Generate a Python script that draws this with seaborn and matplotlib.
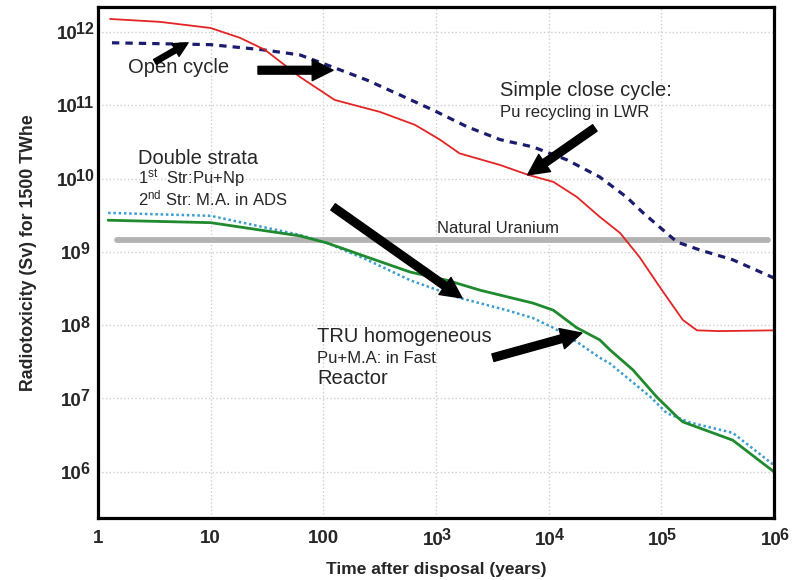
import matplotlib
matplotlib.use("Agg")
import matplotlib.pyplot as plt
import pandas as pd
import seaborn as sns

# Simple close cycle: Pu recycling in LWR
close_t = [1.28, 3.55, 10, 18.2, 30.3, 62, 126, 318, 650, 1080, 1620, 3700, 6600,
           1.1e4, 1.78e4, 2.84e4, 4.3e4, 6.4e4, 9.7e4, 1.55e5, 2.07e5, 3.3e5, 1.0e6]
close_sv = [1.5e12, 1.37e12, 1.13e12, 8.3e11, 5.7e11, 2.43e11, 1.18e11, 8.1e10, 5.4e10,
            3.4e10, 2.2e10, 1.53e10, 1.12e10, 9e9, 5.6e9, 3.0e9, 1.81e9, 8.5e8, 3.3e8,
            1.18e8, 8.5e7, 8.3e7, 8.5e7]

# Open cycle
open_t = [1.33, 10, 29, 62, 122, 244, 478, 940, 1880, 3690, 7250, 1.45e4, 2.84e4,
          4.9e4, 6.9e4, 1.03e5, 1.38e5, 2.2e5, 4.3e5, 1.0e6]
open_sv = [7.1e11, 6.7e11, 5.7e11, 4.85e11, 3.3e11, 2.2e11, 1.38e11, 8.6e10, 5.1e10,
           3.4e10, 2.7e10, 1.8e10, 1.05e10, 5.6e9, 3.4e9, 2.0e9, 1.36e9, 1.06e9,
           7.8e8, 4.4e8]

# Double strata
double_t = [1.23, 10, 62, 108, 244, 590, 1250, 2460, 7250, 1.1e4, 1.78e4, 2.84e4,
            3.5e4, 5.6e4, 9.1e4, 1.38e5, 1.55e5, 4.3e5, 1.0e6]
double_sv = [2.7e9, 2.5e9, 1.65e9, 1.32e9, 8.5e8, 5.3e8, 4.1e8, 3.0e8, 2.0e8, 1.6e8,
             9.2e7, 6.3e7, 4.6e7, 2.45e7, 1.05e7, 5.6e6, 4.8e6, 2.7e6, 1.0e6]

# TRU homogeneous
tru_t = [1.23, 10, 62, 108, 244, 590, 1620, 4250, 7250, 1.1e4, 1.78e4, 2.84e4,
         3.5e4, 8e4, 1.12e5, 1.8e5, 4.3e5, 1.0e6]
tru_sv = [3.4e9, 3.1e9, 1.7e9, 1.32e9, 7.8e8, 4.1e8, 2.35e8, 1.6e8, 1.25e8, 9.2e7,
          5.9e7, 3.6e7, 3.0e7, 1.05e7, 6.3e6, 4.7e6, 3.4e6, 1.23e6]

# Natural uranium reference level
uranium_t = [1.47, 8.8e5]
uranium_sv = [1.45e9, 1.45e9]

x_ticks = [1, 10, 100, 1e3, 1e4, 1e5, 1e6]
x_exps = [None, None, None, "3", "4", "5", "6"]
x_plain = ["1", "10", "100", None, None, None, None]
y_ticks = [1e6, 1e7, 1e8, 1e9, 1e10, 1e11, 1e12]
y_exps = ["6", "7", "8", "9", "10", "11", "12"]

sns.set_style("white")
plt.rcParams["font.family"] = ["Liberation Sans", "DejaVu Sans"]
plt.rcParams["mathtext.fontset"] = "custom"
plt.rcParams["mathtext.rm"] = "Liberation Sans"
plt.rcParams["mathtext.bf"] = "Liberation Sans:bold"
plt.rcParams["mathtext.it"] = "Liberation Sans:italic"
plt.rcParams["mathtext.default"] = "regular"

fig = plt.figure(figsize=(8.06, 5.8), dpi=100)
ax = fig.add_axes([0.1216, 0.1069, 0.8387, 0.8811])
ax.set_xscale("log")
ax.set_yscale("log")

sns.lineplot(x=uranium_t, y=uranium_sv, ax=ax, color="#b3b3b3", lw=4.2)
sns.lineplot(x=open_t, y=open_sv, ax=ax, color="#1c1c6e", lw=2.3,
             linestyle=(0, (2.3, 1.9)))
sns.lineplot(x=close_t, y=close_sv, ax=ax, color="#e32424", lw=1.3)
sns.lineplot(x=tru_t, y=tru_sv, ax=ax, color="#3b9ccf", lw=1.8,
             linestyle=(0, (1, 1.1)))
sns.lineplot(x=double_t, y=double_sv, ax=ax, color="#1f8a2e", lw=2.0)

ax.set_xlim(1, 1e6)
ax.set_ylim(10 ** 5.37, 10 ** 12.34)
ax.set_xticks(x_ticks)
ax.set_yticks(y_ticks)
ax.set_xticklabels([])
ax.set_yticklabels([])
ax.minorticks_off()
ax.tick_params(length=0)
ax.grid(True, which="major", color="#cfcfcf", linestyle=":", linewidth=1)
for sp in ax.spines.values():
    sp.set_visible(True)
    sp.set_color("black")
    sp.set_linewidth(2.3)

FS, FS_EXP = 13.5, 11.5


def power_label(xy, coords, exp, dx, dy):
    # "10" with a large superscript, centred on (dx, dy) points from xy
    total = 1.112 * FS + 0.556 * FS_EXP * len(exp)
    base = ax.annotate("10", xy=xy, xycoords=coords, xytext=(dx - total / 2, dy),
                       textcoords="offset points", ha="left", va="center",
                       fontsize=FS, fontweight="bold", annotation_clip=False)
    ax.annotate(exp, xy=(1, 0.5), xycoords=base, xytext=(-1.2, 3.5),
                textcoords="offset points", ha="left", va="center",
                fontsize=FS_EXP, fontweight="bold", annotation_clip=False)


for v, e in zip(y_ticks, y_exps):
    power_label((0, v), ("axes fraction", "data"), e, -16, -2)

for v, e, p in zip(x_ticks, x_exps, x_plain):
    if e is None:
        ax.annotate(p, xy=(v, 0), xycoords=("data", "axes fraction"),
                    xytext=(0, -15), textcoords="offset points", ha="center",
                    va="center", fontsize=FS, fontweight="bold",
                    annotation_clip=False)
    else:
        power_label((v, 0), ("data", "axes fraction"), e, 1, -16)

ax.set_xlabel("Time after disposal (years)", fontsize=12.5, fontweight="bold")
ax.xaxis.set_label_coords(0.5, -0.087)
ax.set_ylabel("Radiotoxicity (Sv) for 1500 TWhe", fontsize=12.8,
              fontweight="bold")
ax.yaxis.set_label_coords(-0.09, 0.52)

# text labels
ax.text(1.85, 3.3e11, "Open cycle", fontsize=14.5, va="center")
ax.text(3690, 1.6e11, "Simple close cycle:", fontsize=14.5, va="center")
ax.text(3690, 7.9e10, "Pu recycling in LWR", fontsize=12, va="center")
ax.text(2.27, 1.85e10, "Double strata", fontsize=14.5, va="center")
ax.text(2.27, 9.9e9, r"1$^{st}$  Str:Pu+Np", fontsize=12, va="center")
ax.text(2.27, 5.4e9, r"2$^{nd}$ Str: M.A. in ADS", fontsize=12, va="center")
ax.text(3550, 2.05e9, "Natural Uranium", fontsize=12, va="center", ha="center")
ax.text(88, 6.9e7, "TRU homogeneous", fontsize=14.5, va="center")
ax.text(88, 3.5e7, "Pu+M.A: in Fast", fontsize=12, va="center")
ax.text(88, 1.9e7, "Reactor", fontsize=14.5, va="center")

# arrows
big = dict(arrowstyle="simple,head_length=0.75,head_width=0.75,tail_width=0.28",
           fc="black", ec="black", mutation_scale=20, shrinkA=0, shrinkB=0)
small = dict(big, mutation_scale=14)
ax.annotate("", xy=(6.3, 7.1e11), xytext=(3.2, 3.9e11), arrowprops=small)
ax.annotate("", xy=(122, 3.0e11), xytext=(26.3, 3.0e11), arrowprops=big)
ax.annotate("", xy=(6500, 1.12e10), xytext=(2.57e4, 4.9e10), arrowprops=big)
ax.annotate("", xy=(1700, 2.35e8), xytext=(122, 4.1e9), arrowprops=big)
ax.annotate("", xy=(1.97e4, 7.8e7), xytext=(3200, 3.6e7), arrowprops=big)

fig.savefig("out.png", dpi=100)
